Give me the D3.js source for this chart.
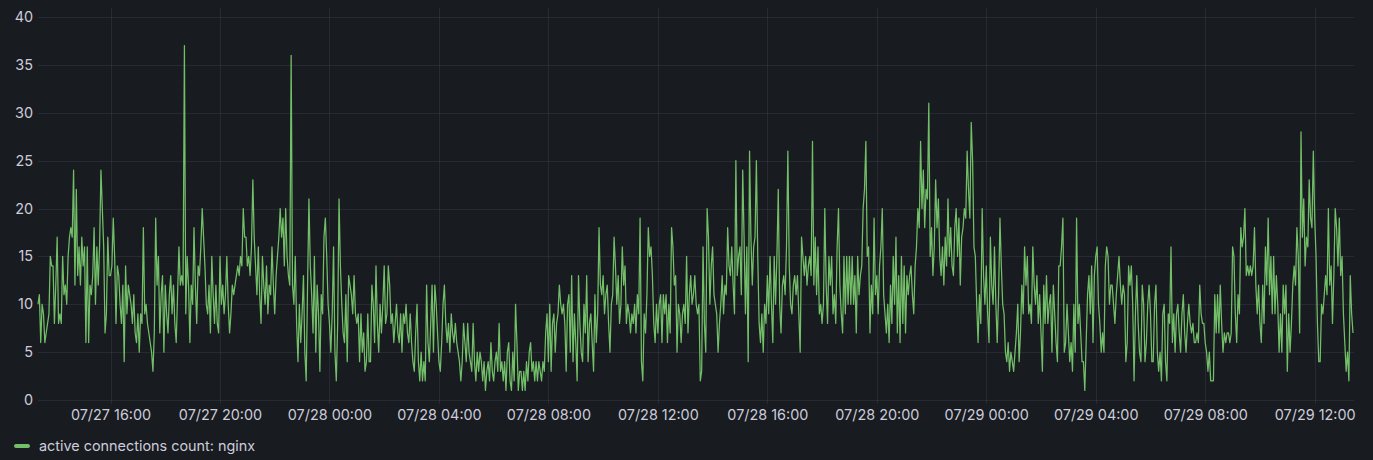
<!DOCTYPE html>
<html>
<head>
<meta charset="utf-8">
<script src="https://cdn.jsdelivr.net/npm/d3@7"></script>
<style>
  html, body { margin: 0; padding: 0; background: #181b1f; }
  svg { display: block; font-family: Inter, "Noto Sans", sans-serif; }
</style>
</head>
<body>
<div id="chart"></div>
<script>
// series: nginx active connections, one sample every 3 minutes
var seriesName = "active connections count: nginx";
var startTime = "2023/07/27 13:21";
var endTime = "2023/07/29 13:24";
var stepMinutes = 3;

var yTicks = [0, 5, 10, 15, 20, 25, 30, 35, 40];
var xTickLabels = ["07/27 16:00", "07/27 20:00", "07/28 00:00", "07/28 04:00", "07/28 08:00",
  "07/28 12:00", "07/28 16:00", "07/28 20:00", "07/29 00:00", "07/29 04:00", "07/29 08:00", "07/29 12:00"];

// 07/27 afternoon / evening
var countsDay1 = [
  10,11,6,10,9,6,7,8,9, 15,14,14,8,12,17,8, 9,8,15,11,12,10,15,17, 18,17,24,12,22,13,16,
  12,17,14,16,6,16,6, 12,11,13,18,10,16,12,16, 24,20,16,7,9,17,13, 13,14,19,15,8,14,13,
  10,8,12,4,14,9,12,11, 10,8,11,7,6,9,5, 9,8,18,9,10,8,7, 6,5,3,7,19,12,15,
  7,11,13,5,12,9,7,11, 13,9,12,8,6,11,16,12, 13,12,37,9,15,12,6, 12,10,18,12,8,14,13,
  16,20,17,14,10,9,12, 7,15,11,8,12,8,7, 15,10,12,9,11,15,10, 7,9,12,11,12,13,14,
  13,15,14,20,17,17,14, 15,13,16,23,17,14,11, 16,11,8,15,12,10,14, 9,12,11,16,12,9,13,
  15,17,20,17,19,14,20, 15,13,12,36,12,10,15, 8,4,10,6,9,13,5, 2,12,21,14,11,7,15
];

// 07/28 night / morning
var countsNight = [
  5,12,9,3,11,9,17, 19,15,10,8,5,9,16, 5,2,8,21,14,10,7, 6,11,4,13,12,
  11,9,13,9,8,9,4, 9,5,7,3,4,9,4, 4,12,10,6,14,8,5, 10,7,10,14,8,9,14,
  12,8,9,6,8,10,7, 6,9,5,9,8,10,7, 6,9,6,4,3,7,10, 4,2,5,2,4,2,12,
  6,4,8,12,5,12,10, 7,4,3,6,10,12,8, 6,8,5,9,7,6,8, 6,5,4,2,4,8,6,
  4,8,5,4,3,8,4, 2,5,3,5,4,2,4, 1,3,4,2,6,3,2, 4,5,3,8,3,4,2,
  4,1,5,6,2,1,5, 2,10,6,1,3,
  3,1,3,1,4,2,5, 6,3,4,2,4,2,4, 3,2,4,3,7,9,4, 10,3,8,9,5,8,9,
  12,10,9,10,8,3,10, 11,5,13,4,9,6,2, 13,8,5,4,10,7,13, 4,8,9,6,3,11,6,
  9,18,12,11,13,9,11, 12,8,5,10,11,17,14, 10,13,8,10,16,12,14, 8,10,9,7,9,8,10,
  7,11,9,19,4,2,9, 7,11,18,15,16,13,8, 6,10,7,10,11,6,11, 9,11,6,10,7,18,16,
  12,13,5,10,9,6,9, 10,8,15,7,11
];

// 07/28 afternoon / evening
var countsDay2 = [
  13,10,11,13,10,9,10, 2,3,16,8,5,20,17, 10,14,16,11,10,9,5, 8,10,13,9,12,11,18,
  14,13,16,12,9,25,13, 15,16,11,24,17,9,16, 4,26,17,12,16,17,25, 15,8,6,9,5,10,8,
  13,9,15,10,6,15,10, 15,22,10,7,12,13,11, 16,26,14,10,9,12,13, 11,13,9,5,17,15,13,
  15,12,14,15,13,27,12, 17,11,16,9,10,8,10, 20,12,8,15,12,15,9, 11,8,16,20,12,9,7,
  15,9,15,10, 15,10,15,10,13,7,15,11,
  13,14,20,22,27,15,16, 7,12,9,19,11,13,9, 14,16,20,11,9,7,10, 6,12,8,15,10,17,7,
  13,6,15,8,14,7,13, 11,13,14,11,9,14,16, 20,18,27,20,24,18,22, 21,31,15,18,13,16,23,
  18,21,15,13,16,12,17, 14,21,15,18,14,13,18, 20,15,19,12,17,18,20, 19,26,22,19,29,25,16
];

// 07/29
var countsDay3 = [
  15,10,6,11,8,20,13, 10,14,9,6,17,12,10, 16,10,6,11,19,14,10, 9,5,4,6,3,5,4,
  3,5,7,10, 4,7,12,9,16,12,15,9,
  10,8,16,12,10,13,8, 11,7,3,12,8,13,8, 10,11,5,12,9,6,4, 14,14,16,19,5,6,10,
  7,4,6,3,10,5,19, 8,10,7,4,4,1,6, 11,13,9,14,6,13,15, 16,10,8,5,7,5,14,
  16,15,10,12,12,10,8, 11,13,15,12,10,12,11, 4,6,14,12,14,10,2, 9,13,8,5,4,12,10,
  4,6,10,12,9,4,4, 10,12,5,3,5,2,9, 10,4,2,9,8,16,6, 9,5,9,10,7,5,9,
  11,7,5,8,10,8,7, 8,6,6,7,6,
  12,9,8,8,6,5,3, 5,2,2,2,11,7,11, 7,12,8,5,7,6,7, 7,6,7,16,15,9,6,
  11,9,18,16,17,20,13, 14,13,14,13,14,18,12, 9,12,8,6,12,8,16, 12,19,11,15,9,15,9,
  13,10,5,9,5,12,9, 12,3,9,5,8,12,14, 12,18,15,7,28,17,21, 14,17,16,23,19,18,26,
  19,15,8,4,4,10,9, 11,13,11,20,12,14,8, 13,20,18,14,19,13,15, 9,6,3,5,2,13,9,7
];

var W = 1373, H = 460;
var plotLeft = 38, plotRight = 1354, plotTop = 17, plotBottom = 400;

var parseT = d3.timeParse("%Y/%m/%d %H:%M");
var t0 = parseT(startTime), t1 = parseT(endTime);

var counts = countsDay1.concat(countsNight, countsDay2, countsDay3);
var data = counts.map(function(v, i){
  return { t: d3.timeMinute.offset(t0, i * stepMinutes), v: v };
});

var x = d3.scaleTime().domain([t0, t1]).range([plotLeft, plotRight - 1]);
var y = d3.scaleLinear().domain([0, 40]).range([plotBottom, plotTop]);

var svg = d3.select("#chart").append("svg")
  .attr("width", W)
  .attr("height", H);

svg.append("rect")
  .attr("width", W).attr("height", H)
  .attr("fill", "#181b1f");

var xTickTimes = xTickLabels.map(function(s){ return parseT("2023/" + s); });

// grid
svg.append("g").attr("class", "grid")
  .selectAll("line.h")
  .data(yTicks)
  .enter().append("line")
  .attr("x1", plotLeft).attr("x2", plotRight)
  .attr("y1", function(d){ return Math.round(y(d)) + 0.5; })
  .attr("y2", function(d){ return Math.round(y(d)) + 0.5; })
  .attr("stroke", "rgba(204,204,220,0.09)");

svg.append("g").attr("class", "grid")
  .selectAll("line.v")
  .data(xTickTimes)
  .enter().append("line")
  .attr("x1", function(d){ return Math.round(x(d)) + 0.5; })
  .attr("x2", function(d){ return Math.round(x(d)) + 0.5; })
  .attr("y1", 8).attr("y2", plotBottom + 4)
  .attr("stroke", "rgba(204,204,220,0.09)");

// axes
var yAxis = svg.append("g")
  .attr("transform", "translate(" + (plotLeft - 5) + ",0)")
  .call(d3.axisLeft(y).tickValues(yTicks).tickSize(0).tickPadding(0));
yAxis.select(".domain").remove();

var xAxis = svg.append("g")
  .attr("transform", "translate(0," + (plotBottom + 10) + ")")
  .call(d3.axisBottom(x).tickValues(xTickTimes).tickSize(0).tickPadding(0)
    .tickFormat(d3.timeFormat("%m/%d %H:%M")));
xAxis.select(".domain").remove();

svg.selectAll(".tick text")
  .attr("fill", "#ccccdc")
  .style("font-size", "14.4px")
  .style("font-family", "Inter, 'Noto Sans', sans-serif");

// series
var line = d3.line()
  .x(function(d){ return x(d.t); })
  .y(function(d){ return y(d.v); });

svg.append("path")
  .datum(data)
  .attr("d", line)
  .attr("fill", "none")
  .attr("stroke", "#73bf69")
  .attr("stroke-width", 1.25)
  .attr("stroke-linejoin", "round");

// legend
var legend = svg.append("g").attr("transform", "translate(14,446)");
legend.append("line")
  .attr("x1", 2).attr("x2", 14)
  .attr("y1", 0).attr("y2", 0)
  .attr("stroke", "#73bf69")
  .attr("stroke-width", 4)
  .attr("stroke-linecap", "round");
legend.append("text")
  .attr("x", 25).attr("y", 0)
  .attr("dy", "0.35em")
  .attr("fill", "#ccccdc")
  .style("font-size", "14.4px")
  .text(seriesName);
</script>
</body>
</html>
